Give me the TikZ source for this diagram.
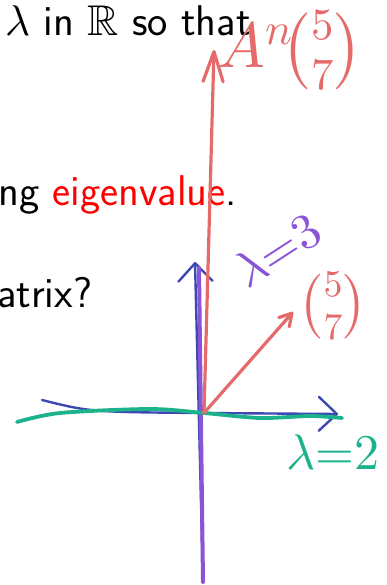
\documentclass[tikz,border=0pt]{standalone}
\usepackage{amsmath, amssymb}
% scalable math fonts
\DeclareFontShape{OML}{cmm}{m}{it}{<-> cmmi10}{}
\DeclareFontShape{OT1}{cmr}{m}{n}{<-> cmr10}{}
\DeclareFontShape{OMS}{cmsy}{m}{n}{<-> cmsy10}{}
\DeclareFontShape{OMX}{cmex}{m}{n}{<-> cmex10}{}
\DeclareFontFamily{U}{msb}{}
\DeclareFontShape{U}{msb}{m}{n}{<-> msbm10}{}
\usetikzlibrary{arrows.meta, calc}
\definecolor{penred}{RGB}{229,107,107}
\definecolor{penpurple}{RGB}{137,84,214}
\definecolor{penblue}{RGB}{62,72,178}
\definecolor{pengreen}{RGB}{28,178,140}
\definecolor{slidered}{RGB}{255,0,0}

\begin{document}
\begin{tikzpicture}[x=1pt, y=-1pt,
    slide/.style={inner sep=0pt, anchor=base west, font=\sffamily\fontsize{43}{50}\selectfont},
    ink/.style={line width=3.2pt, line cap=round, line join=round},
    pentip/.style 2 args={-{Straight Barb[length=#1, width=#2, round]}},
    scrawl/.style={inner sep=0pt, font=\fontsize{50}{60}\selectfont}]
    \useasboundingbox (0,0) rectangle (387,585);
    \clip (0,0) rectangle (387,585);
    % Slide text
    \node[slide] (line1) at (5,36) {$\lambda$ in $\mathbb{R}$ so that};
    \node[slide] (line2) at (-2,205) {ng \textcolor{slidered}{eigenvalue}.};
    \node[slide] (line3) at (-3,307) {atrix?};
    % Axes
    \coordinate (O) at (204,413);
    \coordinate (xleft) at (42,400);
    \coordinate (xtip) at (338,414);
    \coordinate (ybot) at (203,582);
    \coordinate (ytop) at (195,262);
    \draw[ink, penblue, line width=2.4pt, pentip={18pt}{34pt}] (xleft) .. controls (90,412) .. (O) -- (xtip);
    \draw[ink, penblue, line width=2.4pt, pentip={18pt}{34pt}] (ybot) -- (ytop);
    \draw[ink, penpurple, line width=4pt] (ybot) -- ($(ytop)+(4,6)$);
    % Eigenvector for lambda=2
    \draw[ink, pengreen, line width=3.8pt] plot[smooth] coordinates {(17,422) (60,413) (150,409) (204,413) (260,418) (310,416) (342,418)};
    % Vector and its images
    \coordinate (vtip) at (293,312);
    \coordinate (Atip) at (214,50);
    \draw[ink, penred, pentip={30pt}{20pt}] (O) -- (Atip);
    \draw[ink, penred, pentip={12pt}{14pt}] (O) -- (vtip);
    % Labels
    \node[scrawl, penred, font=\fontsize{64}{70}\selectfont] (An) at (290,50) {$A^{n}\!\binom{5}{7}$};
    \node[scrawl, penred, font=\fontsize{54}{60}\selectfont] (v57) at (333,306) {$\binom{5}{7}$};
    \node[scrawl, penpurple, rotate=33] (lam3) at (277,250) {$\lambda{=}3$};
    \node[scrawl, pengreen] (lam2) at (333,452) {$\lambda{=}2$};
\end{tikzpicture}
\end{document}
